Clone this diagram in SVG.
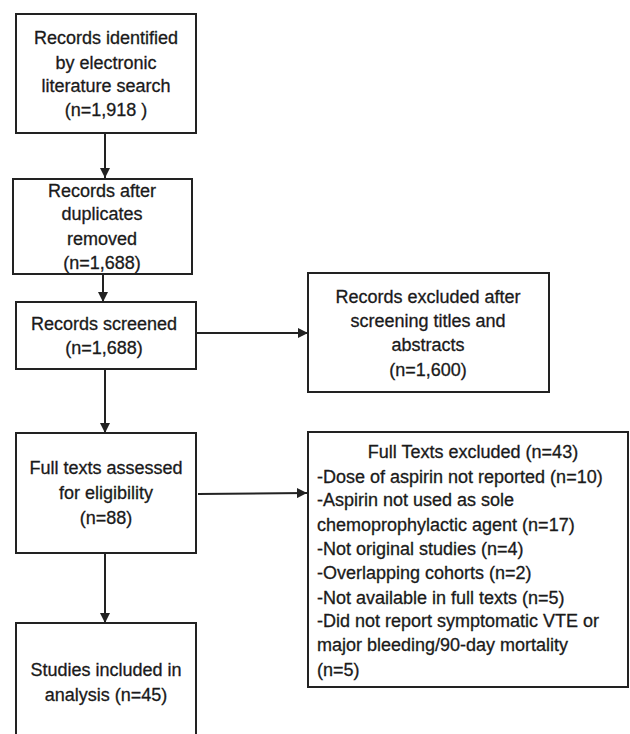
<svg xmlns="http://www.w3.org/2000/svg" width="630" height="734" viewBox="0 0 630 734">
<defs>
<style>
.box{fill:#fff;stroke:#222;stroke-width:2}
.t{font-family:"Liberation Sans",Arial,sans-serif;font-size:18px;fill:#1a1a1a;stroke:#1a1a1a;stroke-width:0.3}
.c{text-anchor:middle}
.ln{stroke:#222;stroke-width:2;fill:none}
</style>
<marker id="ah" viewBox="0 0 10 10" refX="10" refY="5" markerWidth="5" markerHeight="5" orient="auto" markerUnits="strokeWidth">
<path d="M0,0 L10,5 L0,10 z" fill="#222"/>
</marker>
</defs>
<rect width="630" height="734" fill="#fff"/>
<g id="connectors">
<line class="ln" x1="105" y1="133" x2="105" y2="178" marker-end="url(#ah)"/>
<line class="ln" x1="103" y1="274" x2="103" y2="302" marker-end="url(#ah)"/>
<line class="ln" x1="195" y1="333" x2="308" y2="333" marker-end="url(#ah)"/>
<line class="ln" x1="105" y1="369" x2="105" y2="433" marker-end="url(#ah)"/>
<line class="ln" x1="198" y1="494" x2="307" y2="493" marker-end="url(#ah)"/>
<line class="ln" x1="105" y1="553" x2="105" y2="623" marker-end="url(#ah)"/>
</g>
<g id="n1">
<rect class="box" x="16" y="14" width="180" height="119"/>
<text class="t c" x="106" y="44">Records identified</text>
<text class="t c" x="106" y="69">by electronic</text>
<text class="t c" x="106" y="92">literature search</text>
<text class="t c" x="106" y="116">(n=1,918 )</text>
</g>
<g id="n2">
<rect class="box" x="13" y="179" width="179" height="95"/>
<text class="t c" x="102" y="197">Records after</text>
<text class="t c" x="102" y="220">duplicates</text>
<text class="t c" x="102" y="245">removed</text>
<text class="t c" x="102" y="269">(n=1,688)</text>
</g>
<g id="n3">
<rect class="box" x="16" y="302" width="180" height="67"/>
<text class="t c" x="104" y="330">Records screened</text>
<text class="t c" x="104" y="354">(n=1,688)</text>
</g>
<g id="n4">
<rect class="box" x="308" y="273" width="241" height="119"/>
<text class="t c" x="428" y="303">Records excluded after</text>
<text class="t c" x="428" y="327">screening titles and</text>
<text class="t c" x="428" y="351">abstracts</text>
<text class="t c" x="428" y="376">(n=1,600)</text>
</g>
<g id="n5">
<rect class="box" x="16" y="433" width="180" height="120"/>
<text class="t c" x="106" y="474">Full texts assessed</text>
<text class="t c" x="106" y="499">for eligibility</text>
<text class="t c" x="106" y="524">(n=88)</text>
</g>
<g id="n6">
<rect class="box" x="308" y="432" width="320" height="255"/>
<text class="t c" x="473" y="458">Full Texts excluded (n=43)</text>
<text class="t" x="317" y="483">-Dose of aspirin not reported (n=10)</text>
<text class="t" x="317" y="506">-Aspirin not used as sole</text>
<text class="t" x="317" y="531">chemoprophylactic agent (n=17)</text>
<text class="t" x="317" y="555">-Not original studies (n=4)</text>
<text class="t" x="317" y="579">-Overlapping cohorts (n=2)</text>
<text class="t" x="317" y="604">-Not available in full texts (n=5)</text>
<text class="t" x="317" y="627">-Did not report symptomatic VTE or</text>
<text class="t" x="317" y="651">major bleeding/90-day mortality</text>
<text class="t" x="317" y="676">(n=5)</text>
</g>
<g id="n7">
<rect class="box" x="16" y="623" width="180" height="130"/>
<text class="t c" x="106" y="676">Studies included in</text>
<text class="t c" x="106" y="701">analysis (n=45)</text>
</g>
</svg>
